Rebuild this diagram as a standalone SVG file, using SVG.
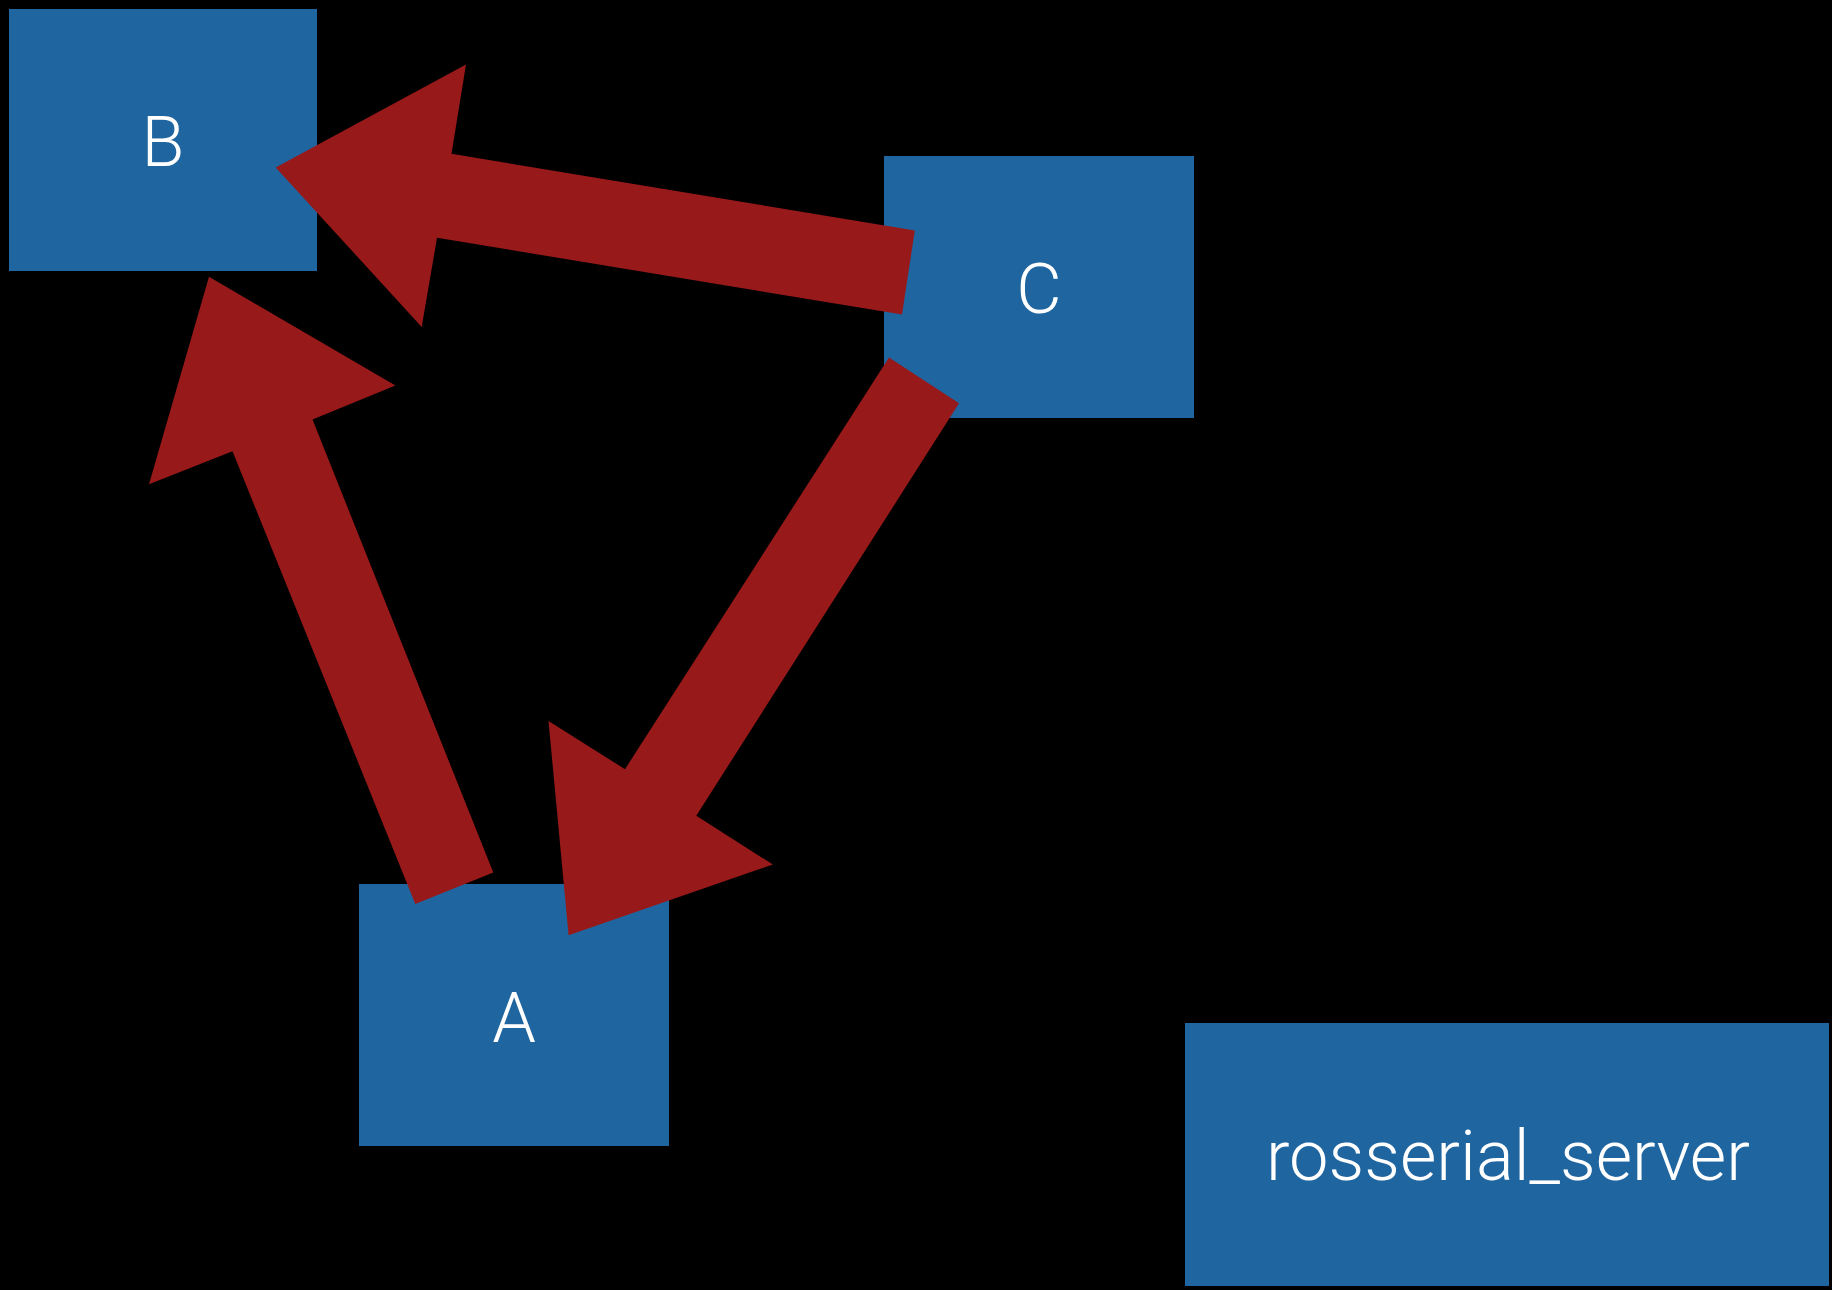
<svg xmlns="http://www.w3.org/2000/svg" width="1832" height="1290" viewBox="0 0 1832 1290">
<style>
.box{fill:#1f65a0}
.lbl{fill:#ffffff;font-family:Roboto,"Liberation Sans",sans-serif;font-weight:300;font-size:70px;text-anchor:middle}
.arrow{fill:#981919}
</style>
<rect x="0" y="0" width="1832" height="1290" fill="#000000"/>
<g id="node-B">
<rect class="box" x="9" y="9" width="308" height="262"/>
<text class="lbl" x="163" y="166">B</text>
</g>
<g id="node-C">
<rect class="box" x="884" y="156" width="310" height="262"/>
<text class="lbl" x="1039" y="313">C</text>
</g>
<g id="node-A">
<rect class="box" x="359" y="884" width="310" height="262"/>
<text class="lbl" x="514" y="1042">A</text>
</g>
<g id="node-rosserial_server">
<rect class="box" x="1185" y="1023" width="644" height="263"/>
<text class="lbl" x="1508" y="1180" textLength="484" lengthAdjust="spacingAndGlyphs">rosserial_server</text>
</g>
<g id="connectors">
<polygon class="arrow" points="275.7,167.4 466,64.6 451.5,153.8 914.8,230.5 902,314.5 437,237.8 421.7,327"/>
<polygon class="arrow" points="209,276.8 395.4,385.4 312.5,419.6 493.3,872.6 415.3,904 232.5,451.2 149,484.2"/>
<polygon class="arrow" points="889,357.4 959,403.3 696.3,815.7 772.8,864.5 568.6,935.2 548.5,721 625,769.2"/>
</g>
</svg>
